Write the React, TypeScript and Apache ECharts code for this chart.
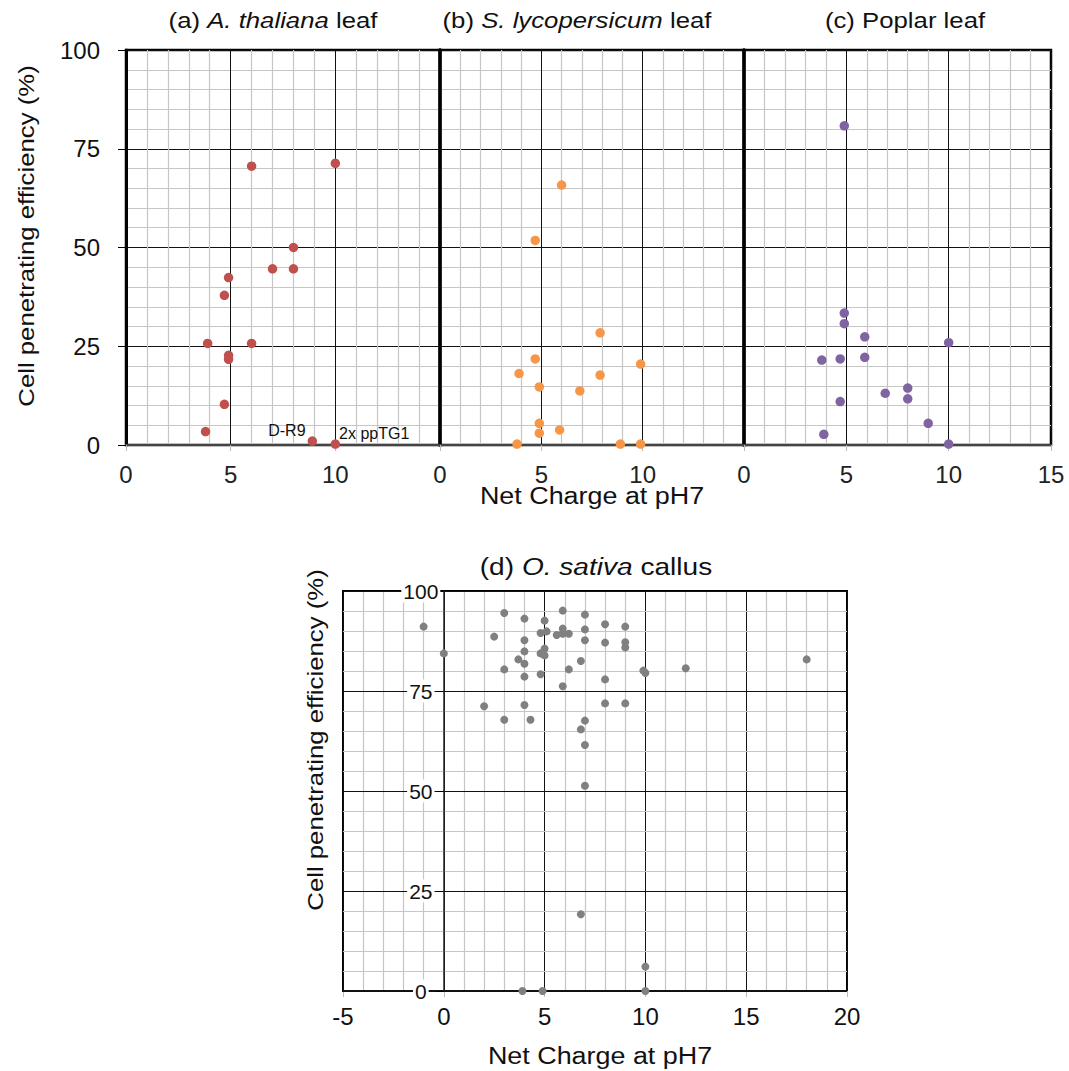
import React, { useEffect, useRef } from "react";
import * as echarts from "echarts";

// ---------- data (net charge at pH7, cell penetrating efficiency %) ----------
const thalianaPoints: [number, number][] = [
  [6, 70.6], [10, 71.3], [8, 50], [7, 44.6], [8, 44.6], [4.9, 42.4], [4.7, 37.9],
  [3.9, 25.7], [6, 25.7], [4.9, 22.7], [4.9, 21.7], [4.7, 10.3], [3.8, 3.4],
  [8.9, 1.0], [10, 0.25],
];
const thalianaLabelIndex = [13, 14];
const thalianaLabelText = ["D-R9", "2x ppTG1"];

const lycopersicumPoints: [number, number][] = [
  [6, 65.8], [4.7, 51.8], [7.9, 28.4], [4.7, 21.8], [3.9, 18.1], [9.9, 20.5],
  [7.9, 17.7], [4.9, 14.7], [6.9, 13.7], [4.9, 5.5], [4.9, 3.0], [5.9, 3.8],
  [3.8, 0.25], [8.9, 0.25], [9.9, 0.25],
];

const poplarPoints: [number, number][] = [
  [4.9, 80.8], [4.9, 33.4], [4.9, 30.7], [5.9, 27.4], [10, 25.9], [3.8, 21.5],
  [4.7, 21.8], [5.9, 22.2], [8, 14.4], [6.9, 13.1], [8, 11.7], [4.7, 11.0],
  [9, 5.5], [3.9, 2.7], [10, 0.25],
];

const sativaPoints: [number, number][] = [
  [-1, 91.1], [0, 84.4], [3, 94.5], [2.5, 88.6], [3, 80.4], [2, 71.2], [3, 67.8],
  [4, 93.1], [4, 87.7], [4, 84.9], [3.7, 82.9], [4, 81.8], [4, 78.6], [4, 71.5],
  [4.3, 67.8], [5, 92.6], [4.8, 89.5], [5.1, 89.9], [5, 85.6], [4.8, 84.4],
  [5, 83.9], [4.8, 79.2], [5.9, 95.1], [5.9, 90.6], [5.6, 89.0], [5.9, 89.3],
  [6.2, 89.3], [6.2, 80.4], [5.9, 76.2], [7, 94.1], [7, 90.4], [7, 87.7],
  [6.8, 82.5], [7, 67.6], [6.8, 65.4], [7, 61.5], [7, 51.3], [8, 91.7], [8, 87.1],
  [8, 77.9], [8, 71.9], [9, 91.1], [9, 87.2], [9, 85.9], [9, 71.9], [9.9, 80.1],
  [10, 79.5], [12, 80.7], [18, 82.9], [6.8, 19.2], [10, 6.1], [3.9, 0], [4.9, 0],
  [10, 0],
];

const topXRange = [0, 15];
const bottomXRange = [-5, 20];
const yRange = [0, 100];

const panelTitles = [
  ["(a) ", "A. thaliana", " leaf"],
  ["(b) ", "S. lycopersicum", " leaf"],
  ["(c) ", "Poplar", " leaf", "plain"],
  ["(d) ", "O. sativa", " callus"],
];
const yTitle = "Cell penetrating efficiency (%)";
const xTitle = "Net Charge at pH7";

const colors = ["#C0504D", "#F79646", "#8064A2", "#808080"];

const FONT = '"Liberation Sans", Arial, Helvetica, sans-serif';
const GRID_MINOR = "#c6c6c6";
const SX = 1.17;

function buildOption(): any {
  const grids = [
    { left: 126, top: 50, width: 314, height: 395 },
    { left: 440, top: 50, width: 304, height: 395 },
    { left: 744, top: 50, width: 307, height: 395 },
    { left: 343, top: 591, width: 504, height: 400 },
  ].map((g) => ({ ...g, show: true, borderColor: "#000", borderWidth: 2.5, backgroundColor: "transparent" }));
  grids[3].borderWidth = 2;

  const xAxes: any[] = [0, 1, 2].map((i) => ({
    type: "value",
    gridIndex: i,
    min: topXRange[0],
    max: topXRange[1],
    interval: 5,
    axisLine: { show: true, onZero: true, lineStyle: { color: "#444", width: 2 } },
    axisTick: { show: true, length: 6, lineStyle: { color: "#bbb", width: 1 } },
    axisLabel: {
      show: true,
      fontSize: 24,
      fontFamily: FONT,
      color: "#222",
      margin: 17,
      formatter: (v: number) => (i < 2 && v === topXRange[1] ? "" : String(v)),
    },
    splitLine: { show: true, lineStyle: { color: "#111", width: 1 } },
    minorTick: { show: false, splitNumber: 5 },
    minorSplitLine: { show: true, lineStyle: { color: GRID_MINOR, width: 1.2 } },
  }));
  xAxes.push({
    type: "value",
    gridIndex: 3,
    min: bottomXRange[0],
    max: bottomXRange[1],
    interval: 5,
    axisLine: { show: true, onZero: true, lineStyle: { color: "#111", width: 2 } },
    axisTick: { show: true, length: 6, lineStyle: { color: "#bbb", width: 1 } },
    axisLabel: { show: true, fontSize: 24, fontFamily: FONT, color: "#111", margin: 13 },
    splitLine: { show: true, lineStyle: { color: "#111", width: 1 } },
    minorTick: { show: false, splitNumber: 5 },
    minorSplitLine: { show: true, lineStyle: { color: GRID_MINOR, width: 1.2 } },
  });

  const yAxes: any[] = [0, 1, 2].map((i) => ({
    type: "value",
    gridIndex: i,
    min: yRange[0],
    max: yRange[1],
    interval: 25,
    axisLine: { show: true, lineStyle: { color: "#000", width: i === 0 ? 3 : 3.5 } },
    axisTick: { show: i === 0, length: 8, lineStyle: { color: "#000", width: 1 } },
    axisLabel: {
      show: i === 0,
      fontSize: 24,
      fontFamily: FONT,
      color: "#111",
      margin: 26,
      padding: [10, 0, 0, 0],
    },
    splitLine: { show: true, lineStyle: { color: "#111", width: 1 } },
    minorTick: { show: false, splitNumber: 5 },
    minorSplitLine: { show: true, lineStyle: { color: GRID_MINOR, width: 1.2 } },
  }));
  // panel (d): y axis drawn at x = 0 (shifted right from the grid's left edge)
  const dUnit = 504 / (bottomXRange[1] - bottomXRange[0]);
  yAxes.push({
    type: "value",
    gridIndex: 3,
    min: yRange[0],
    max: yRange[1],
    interval: 25,
    z: 3,
    offset: -(0 - bottomXRange[0]) * dUnit,
    axisLine: { show: true, onZero: false, lineStyle: { color: "#222", width: 1.5 } },
    axisTick: { show: true, length: 7, lineStyle: { color: "#000", width: 1 } },
    axisLabel: {
      show: true,
      fontSize: 21,
      fontFamily: FONT,
      color: "#111",
      align: "center",
      margin: 23,
      backgroundColor: "#fff",
      padding: [1, 2, 1, 2],
    },
    splitLine: { show: true, lineStyle: { color: "#111", width: 1 } },
    minorTick: { show: false, splitNumber: 5 },
    minorSplitLine: { show: true, lineStyle: { color: GRID_MINOR, width: 1.2 } },
  });

  const thalianaData = thalianaPoints.map((p, idx) => {
    const k = thalianaLabelIndex.indexOf(idx);
    if (k < 0) return p;
    return {
      value: p,
      label: {
        show: true,
        formatter: thalianaLabelText[k],
        position: k === 0 ? "left" : "right",
        offset: k === 0 ? [3, -11] : [-6, -11],
        fontSize: 16,
        fontFamily: FONT,
        color: "#111",
      },
    };
  });

  const series: any[] = [
    { data: thalianaData, idx: 0, size: 9.5 },
    { data: lycopersicumPoints, idx: 1, size: 9.5 },
    { data: poplarPoints, idx: 2, size: 9.5 },
    { data: sativaPoints, idx: 3, size: 8 },
  ].map((s) => ({
    type: "scatter",
    xAxisIndex: s.idx,
    yAxisIndex: s.idx,
    data: s.data,
    symbol: "circle",
    symbolSize: s.size,
    itemStyle: { color: colors[s.idx], opacity: 1 },
    z: 10,
  }));

  const text = (x: number, y: number, str: string, rot = 0, size = 22, extra: any = {}) => ({
    type: "text",
    x,
    y,
    rotation: rot,
    scaleX: SX,
    z: 100,
    style: {
      text: str,
      fontSize: size,
      fontFamily: FONT,
      fill: "#111",
      align: "center",
      verticalAlign: "middle",
      textAlign: "center",
      textVerticalAlign: "middle",
      ...extra,
    },
  });

  const richFor = (size: number) => ({
    n: { fontSize: size, fontFamily: FONT, fill: "#111", color: "#111" },
    i: { fontSize: size, fontFamily: FONT, fontStyle: "italic", fill: "#111", color: "#111" },
  });
  const titleStr = (t: string[]) =>
    t[3] === "plain" ? `{n|${t[0]}${t[1]}${t[2]}}` : `{n|${t[0]}}{i|${t[1]}}{n|${t[2]}}`;
  const titlePos = [
    [273, 20, 22],
    [577, 20, 22],
    [905, 20, 22],
    [596, 567, 24],
  ];

  const graphic: any[] = [
    text(26, 236, yTitle, Math.PI / 2),
    text(315, 740, yTitle, Math.PI / 2),
    text(592, 496, xTitle, 0, 23),
    text(600, 1056, xTitle, 0, 23),
    ...panelTitles.map((t, i) =>
      text(titlePos[i][0], titlePos[i][1], titleStr(t), 0, titlePos[i][2], { rich: richFor(titlePos[i][2]) })
    ),
  ];

  return {
    animation: false,
    backgroundColor: "#fff",
    grid: grids,
    xAxis: xAxes,
    yAxis: yAxes,
    series,
    graphic,
  };
}

export default function App() {
  const ref = useRef<HTMLDivElement>(null);
  useEffect(() => {
    if (!ref.current) return;
    const chart = echarts.init(ref.current, null, { renderer: "svg" });
    chart.setOption(buildOption());
    return () => chart.dispose();
  }, []);
  return (
    <div
      ref={ref}
      style={{ position: "fixed", left: 0, top: 0, width: 1069, height: 1071, background: "#fff" }}
    />
  );
}
